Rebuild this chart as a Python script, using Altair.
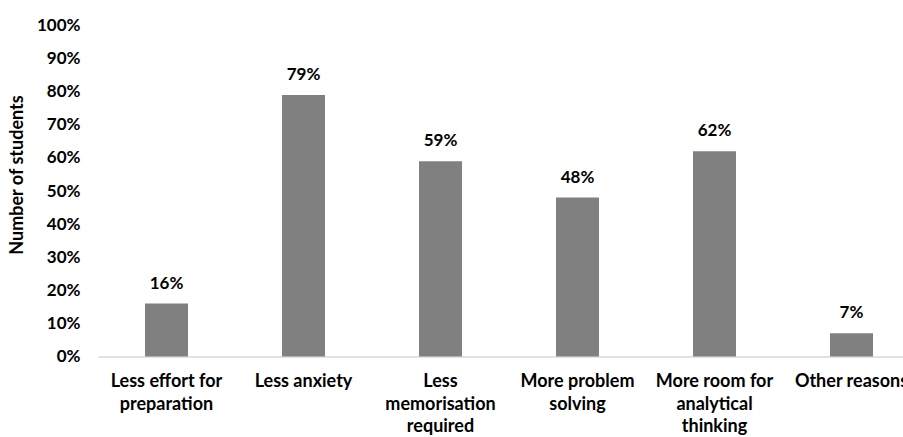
import altair as alt
import pandas as pd

categories = [
    "Less effort for\npreparation",
    "Less anxiety",
    "Less\nmemorisation\nrequired",
    "More problem\nsolving",
    "More room for\nanalytical\nthinking",
    "Other reasons",
]
values = [0.16, 0.79, 0.59, 0.48, 0.62, 0.07]
labels = ["16%", "79%", "59%", "48%", "62%", "7%"]
y_ticks = [i / 10 for i in range(11)]

df = pd.DataFrame({"category": categories, "value": values, "label": labels})

FONT = "Lato"

x_enc = alt.X(
    "category:N",
    sort=None,
    scale=alt.Scale(range=[0, 822], paddingInner=0.686, paddingOuter=0.343),
    axis=alt.Axis(
        title=None,
        labelAngle=0,
        labelExpr="split(datum.label, '\\n')",
        labelFont=FONT,
        labelFontWeight="bold",
        labelFontSize=18,
        labelColor="#000000",
        labelLineHeight=22.5,
        labelBaseline="top",
        labelPadding=16,
        labelLimit=300,
        labelOverlap=False,
        ticks=False,
        domain=True,
        domainColor="#d9d9d9",
        domainWidth=1.5,
        grid=False,
    ),
)

y_enc = alt.Y(
    "value:Q",
    scale=alt.Scale(domain=[0, 1], nice=False),
    axis=alt.Axis(
        values=y_ticks,
        format=".0%",
        title="Number of students",
        titleFont=FONT,
        titleFontWeight="bold",
        titleFontSize=18,
        titleColor="#000000",
        titleX=-81,
        titleY=149,
        titleAlign="center",
        titleBaseline="middle",
        titleAngle=270,
        labelFont=FONT,
        labelFontWeight="bold",
        labelFontSize=17,
        labelColor="#000000",
        labelPadding=18,
        labelOverlap=False,
        ticks=False,
        domain=True,
        domainColor="#ffffff",
        domainOpacity=0,
        domainWidth=3,
        grid=False,
    ),
)

base = alt.Chart(df).encode(x=x_enc, y=y_enc)

bars = base.mark_bar(color="#808080")

text = base.mark_text(
    font=FONT, fontWeight="bold", fontSize=17, color="#000000", dy=-15, baseline="alphabetic"
).encode(text="label:N")

chart = (
    alt.layer(bars, text)
    .properties(
        width=805,
        height=331,
        autosize=alt.AutoSizeParams(type="none"),
        padding={"left": 98, "top": 25.5, "right": 0, "bottom": 80.5},
        view=alt.ViewBackground(stroke="transparent", strokeWidth=0),
    )
    .configure_view(strokeWidth=0, stroke="transparent")
    .configure(background="#ffffff")
)

chart.save("out.html", embed_options={"renderer": "svg", "actions": False})
